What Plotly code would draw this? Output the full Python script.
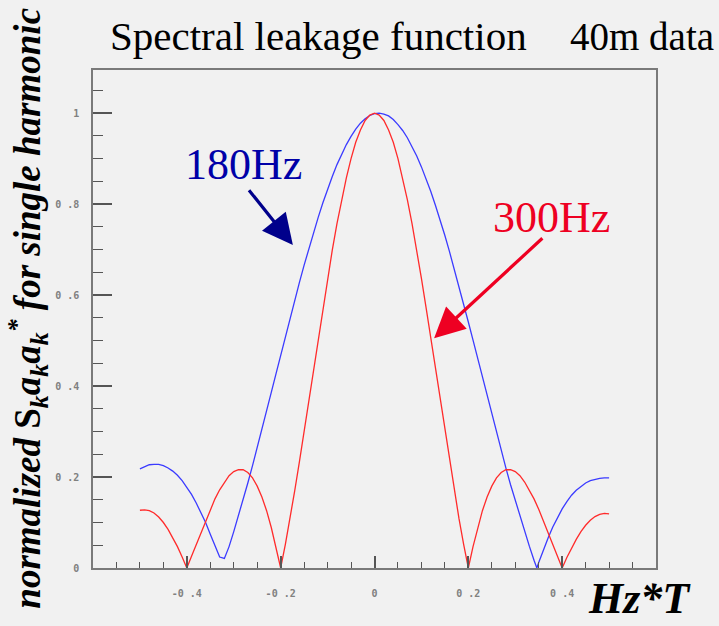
import plotly.graph_objects as go

# ---- data ----
blue_x = [-0.50, -0.49, -0.48, -0.47, -0.46, -0.45, -0.44, -0.43, -0.42, -0.41,
          -0.40, -0.39, -0.38, -0.37, -0.36, -0.35, -0.34, -0.33, -0.32, -0.31,
          -0.30, -0.29, -0.28, -0.27, -0.26, -0.25, -0.24, -0.23, -0.22, -0.21,
          -0.20, -0.19, -0.18, -0.17, -0.16, -0.15, -0.14, -0.13, -0.12, -0.11,
          -0.10, -0.09, -0.08, -0.07, -0.06, -0.05, -0.04, -0.03, -0.02, -0.01,
          0.00, 0.01, 0.02, 0.03, 0.04, 0.05, 0.06, 0.07, 0.08, 0.09,
          0.10, 0.11, 0.12, 0.13, 0.14, 0.15, 0.16, 0.17, 0.18, 0.19,
          0.20, 0.21, 0.22, 0.23, 0.24, 0.25, 0.26, 0.27, 0.28, 0.29,
          0.30, 0.31, 0.32, 0.33, 0.34, 0.346, 0.35, 0.36, 0.37, 0.38, 0.39,
          0.40, 0.41, 0.42, 0.43, 0.44, 0.45, 0.46, 0.47, 0.48, 0.49, 0.50]
blue_y = [0.218, 0.223, 0.227, 0.228, 0.228, 0.225, 0.220, 0.213, 0.204, 0.192,
          0.178, 0.162, 0.143, 0.123, 0.100, 0.074, 0.047, 0.024, 0.021, 0.047,
          0.080, 0.114, 0.150, 0.187, 0.225, 0.264, 0.304, 0.345, 0.386, 0.427,
          0.468, 0.509, 0.549, 0.589, 0.628, 0.666, 0.702, 0.737, 0.771, 0.803,
          0.833, 0.861, 0.887, 0.910, 0.931, 0.949, 0.965, 0.978, 0.988, 0.995,
          0.999, 1.000, 0.998, 0.994, 0.986, 0.975, 0.962, 0.946, 0.927, 0.906,
          0.882, 0.856, 0.828, 0.797, 0.765, 0.731, 0.695, 0.658, 0.620, 0.581,
          0.541, 0.501, 0.460, 0.419, 0.378, 0.337, 0.297, 0.258, 0.220, 0.183,
          0.148, 0.113, 0.080, 0.048, 0.017, 0.000, 0.012, 0.040, 0.066, 0.090, 0.111,
          0.130, 0.146, 0.160, 0.171, 0.180, 0.187, 0.192, 0.195, 0.197, 0.198, 0.198]

red_x = [-0.50, -0.49, -0.48, -0.47, -0.46, -0.45, -0.44, -0.43, -0.42, -0.41,
         -0.40, -0.39, -0.38, -0.37, -0.36, -0.35, -0.34, -0.33, -0.32, -0.31,
         -0.30, -0.29, -0.28, -0.27, -0.26, -0.25, -0.24, -0.23, -0.22, -0.21,
         -0.20, -0.19, -0.18, -0.17, -0.16, -0.15, -0.14, -0.13, -0.12, -0.11,
         -0.10, -0.09, -0.08, -0.07, -0.06, -0.05, -0.04, -0.03, -0.02, -0.01,
         0.00, 0.01, 0.02, 0.03, 0.04, 0.05, 0.06, 0.07, 0.08, 0.09,
         0.10, 0.11, 0.12, 0.13, 0.14, 0.15, 0.16, 0.17, 0.18, 0.19,
         0.20, 0.21, 0.22, 0.23, 0.24, 0.25, 0.26, 0.27, 0.28, 0.29,
         0.30, 0.31, 0.32, 0.33, 0.34, 0.35, 0.36, 0.37, 0.38, 0.39,
         0.40, 0.41, 0.42, 0.43, 0.44, 0.45, 0.46, 0.47, 0.48, 0.49, 0.50]
red_y = [0.127, 0.128, 0.126, 0.121, 0.112, 0.100, 0.085, 0.067, 0.047, 0.024,
         0.000, 0.026, 0.052, 0.078, 0.104, 0.129, 0.152, 0.172, 0.189, 0.203,
         0.212, 0.216, 0.216, 0.210, 0.198, 0.180, 0.156, 0.126, 0.089, 0.047,
         0.000, 0.052, 0.109, 0.170, 0.234, 0.300, 0.368, 0.436, 0.505, 0.572,
         0.637, 0.699, 0.757, 0.810, 0.858, 0.900, 0.936, 0.963, 0.984, 0.996,
         1.000, 0.996, 0.984, 0.963, 0.936, 0.900, 0.858, 0.810, 0.757, 0.699,
         0.637, 0.572, 0.505, 0.436, 0.368, 0.300, 0.234, 0.170, 0.109, 0.052,
         0.000, 0.047, 0.089, 0.126, 0.156, 0.180, 0.198, 0.210, 0.216, 0.216,
         0.212, 0.203, 0.189, 0.172, 0.152, 0.129, 0.104, 0.078, 0.052, 0.026,
         0.000, 0.023, 0.044, 0.063, 0.080, 0.094, 0.105, 0.113, 0.118, 0.120, 0.119]

NB = "\u00a0"
x_tick_vals = [-0.4, -0.2, 0, 0.2, 0.4]
x_tick_text = ["-0" + NB + ".4", "-0" + NB + ".2", "0", "0" + NB + ".2", "0" + NB + ".4"]
y_tick_vals = [0, 0.2, 0.4, 0.6, 0.8, 1.0]
y_tick_text = ["0", "0" + NB + ".2", "0" + NB + ".4", "0" + NB + ".6", "0" + NB + ".8", "1"]

BG = "#f1f1f1"
SERIF = "Liberation Serif"

fig = go.Figure()
fig.add_trace(go.Scatter(x=blue_x, y=blue_y, mode="lines",
                         line=dict(color="#3b3bff", width=1.3), name="180Hz"))
fig.add_trace(go.Scatter(x=red_x, y=red_y, mode="lines",
                         line=dict(color="#ff2b2b", width=1.3), name="300Hz"))

axis_common = dict(showgrid=False, zeroline=False, showline=True, mirror=True,
                   linecolor="#7a7a7a", linewidth=1.5, ticks="inside",
                   tickcolor="#555555", tickwidth=1.5,
                   tickfont=dict(family="DejaVu Sans Mono", size=10, color="#808080",
                                 weight="bold"))

fig.update_xaxes(range=[-0.6, 0.6], tickvals=x_tick_vals, ticktext=x_tick_text,
                 ticklen=12, ticklabelstandoff=15,
                 minor=dict(ticks="inside", dtick=0.05, tick0=0, ticklen=6,
                            tickcolor="#555555", tickwidth=1.2),
                 **axis_common)
fig.update_yaxes(range=[0, 1.095], tickvals=y_tick_vals, ticktext=y_tick_text,
                 ticklen=19, ticklabelstandoff=10,
                 minor=dict(ticks="inside", dtick=0.05, tick0=0, ticklen=10,
                            tickcolor="#555555", tickwidth=1.2),
                 **axis_common)

annotations = [
    dict(text="Spectral leakage function", xref="paper", yref="paper",
         x=0.4005, y=1.068, showarrow=False, xanchor="center", yanchor="middle",
         font=dict(family=SERIF, size=41, color="black")),
    dict(text="40m data", xref="paper", yref="paper",
         x=0.975, y=1.068, showarrow=False, xanchor="center", yanchor="middle",
         font=dict(family=SERIF, size=39, color="black")),
    dict(text="<b><i>normalized </i>S<i><sub>k</sub>a<sub>k</sub>a<sub>k</sub><sup>*</sup>"
              " for single harmonic</i></b>",
         xref="paper", yref="paper", x=-0.117, y=0.521, textangle=-90,
         showarrow=False, xanchor="center", yanchor="middle",
         font=dict(family=SERIF, size=37, color="black")),
    dict(text="<b><i>Hz*T</i></b>", xref="paper", yref="paper",
         x=0.970, y=-0.062, showarrow=False, xanchor="center", yanchor="middle",
         font=dict(family=SERIF, size=44, color="black")),
    dict(text="180Hz", x=-0.280, y=0.887, showarrow=False,
         xanchor="center", yanchor="middle",
         font=dict(family=SERIF, size=44, color="#0000a8")),
    dict(text="300Hz", x=0.378, y=0.771, showarrow=False,
         xanchor="center", yanchor="middle",
         font=dict(family=SERIF, size=44, color="#ee0022")),
    # arrows
    dict(text="", x=-0.174, y=0.710, ax=-0.270, ay=0.834, axref="x", ayref="y",
         showarrow=True, arrowhead=2, arrowsize=1.9, arrowwidth=3.2,
         arrowcolor="#00008b"),
    dict(text="", x=0.127, y=0.505, ax=0.361, ay=0.728, axref="x", ayref="y",
         showarrow=True, arrowhead=2, arrowsize=1.9, arrowwidth=3.2,
         arrowcolor="#ee0022"),
]

fig.update_layout(
    width=719, height=626,
    margin=dict(l=93, r=63, t=70, b=58),
    paper_bgcolor=BG, plot_bgcolor=BG,
    showlegend=False,
    annotations=annotations,
)

fig.write_html("out.html")
